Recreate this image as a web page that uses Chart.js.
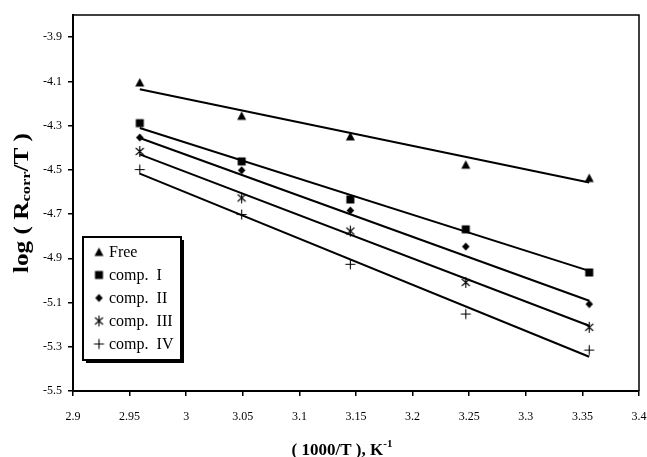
<!DOCTYPE html>
<html>
<head>
<meta charset="utf-8">
<script src="https://cdn.jsdelivr.net/npm/chart.js@4.4.0/dist/chart.umd.min.js"></script>
<style>
    html, body { margin: 0; padding: 0; background: #fff; }
    #wrap { width: 647px; height: 457px; position: relative; }
</style>
</head>
<body>
<div id="wrap"><canvas id="arrhenius"></canvas></div>
<script>
"use strict";

// 1000/T values (K^-1) of the measurement points
const xVals = [2.959, 3.049, 3.145, 3.247, 3.356];

// log(Rcorr/T)
const freeY  = [-4.105, -4.256, -4.349, -4.477, -4.537];
const comp1Y = [-4.289, -4.462, -4.634, -4.769, -4.964];
const comp2Y = [-4.354, -4.502, -4.684, -4.847, -5.107];
const comp3Y = [-4.417, -4.627, -4.777, -5.009, -5.212];
const comp4Y = [-4.499, -4.702, -4.927, -5.152, -5.315];

// fitted straight lines, value at first and last x
const fitX     = [2.959, 3.356];
const freeFit  = [-4.136, -4.557];
const comp1Fit = [-4.311, -4.957];
const comp2Fit = [-4.356, -5.092];
const comp3Fit = [-4.430, -5.205];
const comp4Fit = [-4.517, -5.345];

const seriesNames = ['Free', 'comp.  I', 'comp.  II', 'comp.  III', 'comp.  IV'];

// axis ticks
const xTicks = [2.9, 2.95, 3, 3.05, 3.1, 3.15, 3.2, 3.25, 3.3, 3.35, 3.4];
const yTicks = [-5.5, -5.3, -5.1, -4.9, -4.7, -4.5, -4.3, -4.1, -3.9];

const serif = "'Liberation Serif', 'Times New Roman', serif";

// small canvases used as point markers
const makeMarker = (kind) => {
    const c = document.createElement('canvas');
    c.width = 13;
    c.height = 13;
    const g = c.getContext('2d');
    g.fillStyle = '#000';
    g.strokeStyle = '#000';
    g.lineWidth = 1.1;
    const m = 6.5;
    g.beginPath();
    if (kind === 'tri') {
        g.moveTo(m, 2); g.lineTo(m + 4.5, 10.5); g.lineTo(m - 4.5, 10.5); g.closePath(); g.fill();
    } else if (kind === 'sq') {
        g.fillRect(2.5, 2.5, 8, 8);
    } else if (kind === 'dia') {
        g.moveTo(m, 2.5); g.lineTo(m + 3.8, m); g.lineTo(m, 10.5); g.lineTo(m - 3.8, m); g.closePath(); g.fill();
    } else if (kind === 'star') {
        g.moveTo(m, 1); g.lineTo(m, 12);
        g.moveTo(2.5, 3); g.lineTo(10.5, 10);
        g.moveTo(10.5, 3); g.lineTo(2.5, 10);
        g.stroke();
    } else {
        g.moveTo(m, 1.5); g.lineTo(m, 11.5);
        g.moveTo(1.5, m); g.lineTo(11.5, m);
        g.stroke();
    }
    return c;
};

const markers = ['tri', 'sq', 'dia', 'star', 'plus'].map(makeMarker);
const pointSets = [freeY, comp1Y, comp2Y, comp3Y, comp4Y];
const fitSets = [freeFit, comp1Fit, comp2Fit, comp3Fit, comp4Fit];

const toXY = (ys, xs) => ys.map((y, i) => ({ x: xs[i], y: y }));

const datasets = [];
fitSets.forEach((f, i) => {
    datasets.push({
        label: seriesNames[i] + ' fit',
        data: toXY(f, fitX),
        showLine: true,
        borderColor: '#000',
        borderWidth: 2,
        pointRadius: 0,
        fill: false
    });
});
pointSets.forEach((ys, i) => {
    datasets.push({
        label: seriesNames[i],
        data: toXY(ys, xVals),
        showLine: false,
        pointStyle: markers[i],
        pointRadius: 6,
        borderColor: '#000',
        backgroundColor: '#000'
    });
});

const fmt = v => String(+Number(v).toFixed(2));

// top/right frame, legend box and axis titles
const decorations = {
    id: 'decorations',
    afterDraw(chart) {
        const ctx = chart.ctx;
        const a = chart.chartArea;
        ctx.save();

        // plot frame
        ctx.strokeStyle = '#000';
        ctx.lineWidth = 1.5;
        ctx.beginPath();
        ctx.moveTo(a.left, a.top);
        ctx.lineTo(a.right, a.top);
        ctx.lineTo(a.right, a.bottom);
        ctx.stroke();

        // legend
        const lx = 83, ly = 237, lw = 98, lh = 123;
        ctx.fillStyle = '#000';
        ctx.fillRect(lx + 3, ly + 3, lw, lh);
        ctx.fillStyle = '#fff';
        ctx.fillRect(lx, ly, lw, lh);
        ctx.lineWidth = 2;
        ctx.strokeRect(lx, ly, lw, lh);
        ctx.fillStyle = '#000';
        ctx.font = '16px ' + serif;
        ctx.textAlign = 'left';
        ctx.textBaseline = 'middle';
        seriesNames.forEach((name, i) => {
            const y = 252 + i * 23;
            ctx.drawImage(markers[i], 99 - 6.5, y - 6.5);
            ctx.fillText(name, 109, y + 1);
        });

        // y title: log ( Rcorr/T ), stretched along its length like the original
        ctx.translate(23, 203);
        ctx.rotate(-Math.PI / 2);
        const yParts = [
            { t: 'log ( R', f: 'bold 20px ' + serif, dy: 0 },
            { t: 'corr', f: 'bold 13px ' + serif, dy: 4 },
            { t: '/T )', f: 'bold 20px ' + serif, dy: 0 }
        ];
        drawParts(ctx, yParts, 0, 0, 140);
        ctx.setTransform(1, 0, 0, 1, 0, 0);

        // x title: ( 1000/T ), K-1
        const xParts = [
            { t: '( 1000/T ), K', f: 'bold 17px ' + serif, dy: 0 },
            { t: '-1', f: 'bold 11px ' + serif, dy: -7 }
        ];
        drawParts(ctx, xParts, 342, 451, 0);
        ctx.restore();
    }
};

function drawParts(ctx, parts, cx, cy, targetWidth) {
    let total = 0;
    parts.forEach(p => { ctx.font = p.f; total += ctx.measureText(p.t).width; });
    const k = targetWidth ? targetWidth / total : 1;
    ctx.save();
    ctx.translate(cx, cy);
    ctx.scale(k, 1);
    let x = -total / 2;
    ctx.textAlign = 'left';
    ctx.textBaseline = 'middle';
    ctx.fillStyle = '#000';
    parts.forEach(p => {
        ctx.font = p.f;
        ctx.fillText(p.t, x, p.dy);
        x += ctx.measureText(p.t).width;
    });
    ctx.restore();
}

const tickFont = { family: serif, size: 12 };

const chart = new Chart(document.getElementById('arrhenius').getContext('2d'), {
    type: 'scatter',
    data: { datasets: datasets },
    options: {
        responsive: true,
        maintainAspectRatio: false,
        animation: false,
        devicePixelRatio: 1,
        layout: { padding: { left: 0, top: 15, right: 8, bottom: 0 } },
        plugins: {
            legend: { display: false },
            tooltip: { enabled: false }
        },
        scales: {
            x: {
                type: 'linear',
                min: 2.9,
                max: 3.4,
                afterBuildTicks: s => { s.ticks = xTicks.map(v => ({ value: v })); },
                afterFit: s => { s.height = 66; s.paddingLeft = 0; s.paddingRight = 0; },
                ticks: {
                    callback: fmt,
                    color: '#000',
                    font: tickFont,
                    padding: 14,
                    maxRotation: 0,
                    autoSkip: false
                },
                grid: { drawOnChartArea: false, drawTicks: true, tickLength: 5, color: '#000', lineWidth: 1.5 },
                border: { display: true, color: '#000', width: 2 }
            },
            y: {
                type: 'linear',
                min: -5.5,
                max: -3.8,
                afterBuildTicks: s => { s.ticks = yTicks.map(v => ({ value: v })); },
                afterFit: s => { s.width = 73; s.paddingTop = 0; s.paddingBottom = 0; },
                ticks: {
                    callback: fmt,
                    color: '#000',
                    font: tickFont,
                    padding: 6
                },
                grid: { drawOnChartArea: false, drawTicks: true, tickLength: 5, color: '#000', lineWidth: 1.5 },
                border: { display: true, color: '#000', width: 2 }
            }
        }
    },
    plugins: [decorations]
});
</script>
</body>
</html>
